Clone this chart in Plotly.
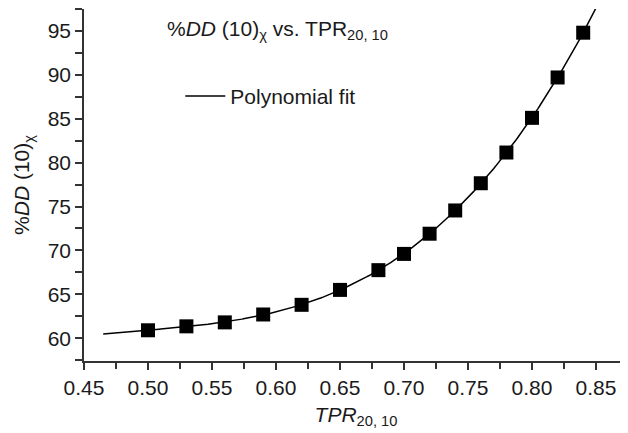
import numpy as np
import plotly.graph_objects as go

tpr = [0.50, 0.53, 0.56, 0.59, 0.62, 0.65, 0.68, 0.70, 0.72, 0.74, 0.76, 0.78, 0.80, 0.82, 0.84]
pdd = [60.9, 61.35, 61.8, 62.7, 63.8, 65.5, 67.75, 69.6, 71.9, 74.55, 77.65, 81.15, 85.1, 89.7, 94.8]

# Range of the drawn fit curve
fit_start = 0.465
fit_end = 0.86

x_ticks = [0.45, 0.50, 0.55, 0.60, 0.65, 0.70, 0.75, 0.80, 0.85]
y_ticks = [60, 65, 70, 75, 80, 85, 90, 95]

coef = np.polyfit(tpr, pdd, 3)
xf = np.linspace(fit_start, fit_end, 300)
yf = np.polyval(coef, xf)

FONT = "Liberation Sans, Arial, sans-serif"
FS = 21

# page has an 8px body margin; figure is sized to fit inside the viewport
W, H = 620, 425
ML, MR, MT, MB = 76, 0, 1, 72
PW, PH = W - ML - MR, H - MT - MB

fig = go.Figure()
fig.add_trace(go.Scatter(
    x=xf, y=yf, mode="lines", name="Polynomial fit",
    line=dict(color="black", width=1.5), showlegend=True,
))
fig.add_trace(go.Scatter(
    x=tpr, y=pdd, mode="markers", name="data", showlegend=False,
    marker=dict(symbol="square", size=14, color="black", line=dict(width=0)),
))

axis_common = dict(
    showline=True, linecolor="#333333", linewidth=1.5,
    ticks="outside", ticklen=7, tickwidth=1.5, tickcolor="#333333",
    showgrid=False, zeroline=False, mirror=False, automargin=False,
    tickfont=dict(family=FONT, size=FS, color="#1a1a1a"),
)

fig.update_layout(
    width=W, height=H,
    margin=dict(l=ML, r=MR, t=MT, b=MB),
    paper_bgcolor="white", plot_bgcolor="white",
    font=dict(family=FONT, size=FS, color="#1a1a1a"),
    xaxis=dict(
        range=[0.45, 0.875], tickvals=x_ticks,
        ticktext=[f"{v:.2f}" for v in x_ticks],
        minor=dict(dtick=0.025, tick0=0.45, ticks="outside", ticklen=6, tickwidth=1.5, tickcolor="#333333"),
        title=dict(text="<i>TPR</i><sub>20, 10</sub>", font=dict(family=FONT, size=FS), standoff=9),
        **axis_common,
    ),
    yaxis=dict(
        range=[57.4, 97.5], tickvals=y_ticks,
        minor=dict(dtick=2.5, tick0=57.5, ticks="outside", ticklen=7, tickwidth=1.5, tickcolor="#333333"),
        title=dict(text="%<i>DD</i> (10)<sub>χ</sub>", font=dict(family=FONT, size=FS), standoff=12),
        **axis_common,
    ),
    legend=dict(
        x=0.177, y=0.81, xanchor="left", yanchor="top",
        bgcolor="rgba(0,0,0,0)", font=dict(family=FONT, size=FS),
        itemwidth=40,
    ),
    annotations=[dict(
        text="%<i>DD</i> (10)<sub>χ</sub> vs. TPR<sub>20, 10</sub>",
        xref="paper", yref="paper", x=(157 - ML) / PW, y=(353 - 22) / PH,
        xanchor="left", yanchor="middle", showarrow=False,
        font=dict(family=FONT, size=FS, color="#1a1a1a"),
    )],
)

fig.write_html("out.html")
